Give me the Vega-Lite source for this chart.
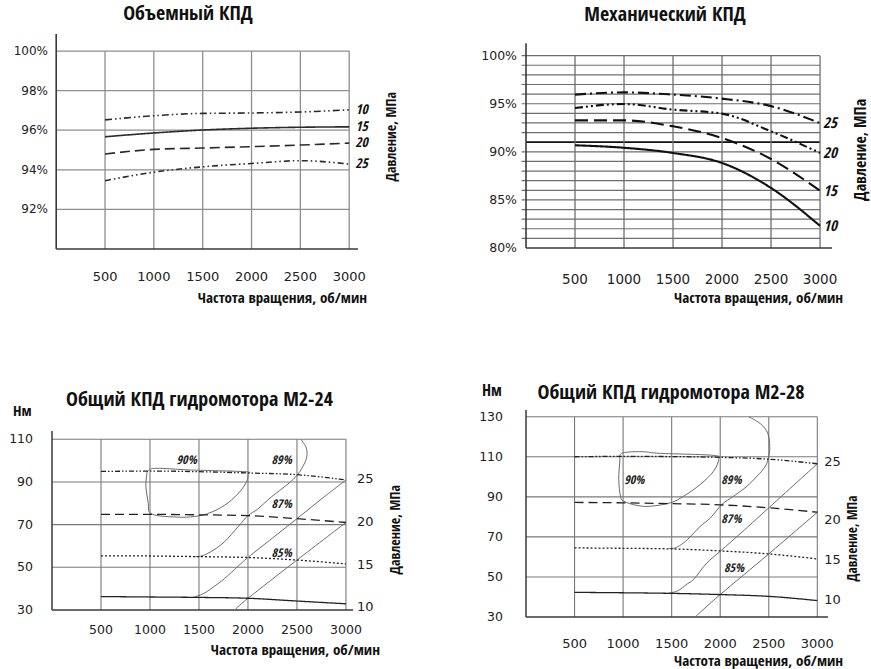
{
  "$schema": "https://vega.github.io/schema/vega-lite/v6.json",
  "background": "white",
  "padding": {"left": 9, "top": 4, "right": 0, "bottom": 0},
  "datasets": {
    "vol": [
      {"p": "10", "rpm": 500, "eff": 96.52}, {"p": "10", "rpm": 1000, "eff": 96.73}, {"p": "10", "rpm": 1500, "eff": 96.85}, {"p": "10", "rpm": 2000, "eff": 96.87}, {"p": "10", "rpm": 2500, "eff": 96.92}, {"p": "10", "rpm": 3000, "eff": 97.03},
      {"p": "15", "rpm": 500, "eff": 95.67}, {"p": "15", "rpm": 1000, "eff": 95.86}, {"p": "15", "rpm": 1500, "eff": 96.01}, {"p": "15", "rpm": 2000, "eff": 96.1}, {"p": "15", "rpm": 2500, "eff": 96.15}, {"p": "15", "rpm": 3000, "eff": 96.17},
      {"p": "20", "rpm": 500, "eff": 94.8}, {"p": "20", "rpm": 1000, "eff": 95.03}, {"p": "20", "rpm": 1500, "eff": 95.1}, {"p": "20", "rpm": 2000, "eff": 95.17}, {"p": "20", "rpm": 2500, "eff": 95.25}, {"p": "20", "rpm": 3000, "eff": 95.35},
      {"p": "25", "rpm": 500, "eff": 93.45}, {"p": "25", "rpm": 1000, "eff": 93.88}, {"p": "25", "rpm": 1500, "eff": 94.15}, {"p": "25", "rpm": 2000, "eff": 94.32}, {"p": "25", "rpm": 2500, "eff": 94.46}, {"p": "25", "rpm": 3000, "eff": 94.29}
    ],
    "mech": [
      {"p": "25", "rpm": 500, "eff": 95.95}, {"p": "25", "rpm": 1000, "eff": 96.18}, {"p": "25", "rpm": 1500, "eff": 95.95}, {"p": "25", "rpm": 2000, "eff": 95.53}, {"p": "25", "rpm": 2500, "eff": 94.75}, {"p": "25", "rpm": 3000, "eff": 92.98},
      {"p": "20", "rpm": 500, "eff": 94.55}, {"p": "20", "rpm": 1000, "eff": 94.97}, {"p": "20", "rpm": 1500, "eff": 94.39}, {"p": "20", "rpm": 2000, "eff": 93.97}, {"p": "20", "rpm": 2500, "eff": 92.13}, {"p": "20", "rpm": 3000, "eff": 89.88},
      {"p": "15", "rpm": 500, "eff": 93.27}, {"p": "15", "rpm": 1000, "eff": 93.27}, {"p": "15", "rpm": 1500, "eff": 92.65}, {"p": "15", "rpm": 2000, "eff": 91.43}, {"p": "15", "rpm": 2500, "eff": 89.25}, {"p": "15", "rpm": 3000, "eff": 85.95},
      {"p": "10", "rpm": 500, "eff": 90.68}, {"p": "10", "rpm": 1000, "eff": 90.42}, {"p": "10", "rpm": 1500, "eff": 89.88}, {"p": "10", "rpm": 2000, "eff": 88.84}, {"p": "10", "rpm": 2500, "eff": 86.24}, {"p": "10", "rpm": 3000, "eff": 82.3}
    ],
    "m24": [
      {"p": "25", "rpm": 500, "torque": 94.9}, {"p": "25", "rpm": 1000, "torque": 95.1}, {"p": "25", "rpm": 1500, "torque": 94.8}, {"p": "25", "rpm": 2000, "torque": 94.2}, {"p": "25", "rpm": 2500, "torque": 93.4}, {"p": "25", "rpm": 3000, "torque": 90.9},
      {"p": "20", "rpm": 500, "torque": 74.8}, {"p": "20", "rpm": 1000, "torque": 74.8}, {"p": "20", "rpm": 1500, "torque": 74.6}, {"p": "20", "rpm": 2000, "torque": 74.2}, {"p": "20", "rpm": 2500, "torque": 72.8}, {"p": "20", "rpm": 3000, "torque": 71.0},
      {"p": "15", "rpm": 500, "torque": 55.4}, {"p": "15", "rpm": 1000, "torque": 55.3}, {"p": "15", "rpm": 1500, "torque": 55.0}, {"p": "15", "rpm": 2000, "torque": 54.6}, {"p": "15", "rpm": 2500, "torque": 53.4}, {"p": "15", "rpm": 3000, "torque": 51.6},
      {"p": "10", "rpm": 500, "torque": 36.3}, {"p": "10", "rpm": 1000, "torque": 36.1}, {"p": "10", "rpm": 1500, "torque": 35.9}, {"p": "10", "rpm": 2000, "torque": 35.5}, {"p": "10", "rpm": 2500, "torque": 34.2}, {"p": "10", "rpm": 3000, "torque": 32.9}
    ],
    "m28": [
      {"p": "25", "rpm": 500, "torque": 110.0}, {"p": "25", "rpm": 1000, "torque": 110.2}, {"p": "25", "rpm": 1500, "torque": 110.1}, {"p": "25", "rpm": 2000, "torque": 109.7}, {"p": "25", "rpm": 2500, "torque": 108.8}, {"p": "25", "rpm": 3000, "torque": 106.5},
      {"p": "20", "rpm": 500, "torque": 87.2}, {"p": "20", "rpm": 1000, "torque": 87.0}, {"p": "20", "rpm": 1500, "torque": 86.6}, {"p": "20", "rpm": 2000, "torque": 86.0}, {"p": "20", "rpm": 2500, "torque": 84.5}, {"p": "20", "rpm": 3000, "torque": 82.3},
      {"p": "15", "rpm": 500, "torque": 64.5}, {"p": "15", "rpm": 1000, "torque": 64.3}, {"p": "15", "rpm": 1500, "torque": 64.0}, {"p": "15", "rpm": 2000, "torque": 63.0}, {"p": "15", "rpm": 2500, "torque": 61.5}, {"p": "15", "rpm": 3000, "torque": 59.0},
      {"p": "10", "rpm": 500, "torque": 42.3}, {"p": "10", "rpm": 1000, "torque": 42.1}, {"p": "10", "rpm": 1500, "torque": 41.8}, {"p": "10", "rpm": 2000, "torque": 41.2}, {"p": "10", "rpm": 2500, "torque": 40.3}, {"p": "10", "rpm": 3000, "torque": 38.2}
    ],
    "m24_iso": [
      {"eff": "90%", "i": 0, "rpm": 983, "torque": 95.3}, {"eff": "90%", "i": 1, "rpm": 1069, "torque": 96.4}, {"eff": "90%", "i": 2, "rpm": 1414, "torque": 95.6}, {"eff": "90%", "i": 3, "rpm": 1966, "torque": 94.8},
      {"eff": "90%", "i": 4, "rpm": 2000, "torque": 93.7}, {"eff": "90%", "i": 5, "rpm": 1983, "torque": 89.8}, {"eff": "90%", "i": 6, "rpm": 1897, "torque": 84.4}, {"eff": "90%", "i": 7, "rpm": 1759, "torque": 79.0},
      {"eff": "90%", "i": 8, "rpm": 1586, "torque": 75.1}, {"eff": "90%", "i": 9, "rpm": 1414, "torque": 73.6}, {"eff": "90%", "i": 10, "rpm": 1241, "torque": 73.6}, {"eff": "90%", "i": 11, "rpm": 1069, "torque": 74.3},
      {"eff": "90%", "i": 12, "rpm": 993, "torque": 75.9}, {"eff": "90%", "i": 13, "rpm": 983, "torque": 79.8}, {"eff": "90%", "i": 14, "rpm": 959, "torque": 87.5}, {"eff": "90%", "i": 15, "rpm": 966, "torque": 92.9},
      {"eff": "89%", "i": 0, "rpm": 2540, "torque": 110}, {"eff": "89%", "i": 1, "rpm": 2590, "torque": 106.5}, {"eff": "89%", "i": 2, "rpm": 2603, "torque": 103}, {"eff": "89%", "i": 3, "rpm": 2580, "torque": 99},
      {"eff": "89%", "i": 4, "rpm": 2508, "torque": 93.5}, {"eff": "89%", "i": 5, "rpm": 2407, "torque": 89}, {"eff": "89%", "i": 6, "rpm": 2237, "torque": 82.9}, {"eff": "89%", "i": 7, "rpm": 2100, "torque": 77.3},
      {"eff": "89%", "i": 8, "rpm": 2000, "torque": 74.2}, {"eff": "89%", "i": 9, "rpm": 1897, "torque": 68.9}, {"eff": "89%", "i": 10, "rpm": 1759, "torque": 61.9}, {"eff": "89%", "i": 11, "rpm": 1621, "torque": 57.3},
      {"eff": "89%", "i": 12, "rpm": 1517, "torque": 55.2}, {"eff": "89%", "i": 13, "rpm": 1440, "torque": 55.1},
      {"eff": "87%", "i": 0, "rpm": 1440, "torque": 35.9}, {"eff": "87%", "i": 1, "rpm": 1550, "torque": 37.8}, {"eff": "87%", "i": 2, "rpm": 1660, "torque": 41.2}, {"eff": "87%", "i": 3, "rpm": 1760, "torque": 44.7},
      {"eff": "87%", "i": 4, "rpm": 1897, "torque": 50.4}, {"eff": "87%", "i": 5, "rpm": 2000, "torque": 54.6}, {"eff": "87%", "i": 6, "rpm": 2250, "torque": 63.7}, {"eff": "87%", "i": 7, "rpm": 2500, "torque": 72.8},
      {"eff": "87%", "i": 8, "rpm": 2750, "torque": 82}, {"eff": "87%", "i": 9, "rpm": 3000, "torque": 90.9},
      {"eff": "85%", "i": 0, "rpm": 1864, "torque": 30}, {"eff": "85%", "i": 1, "rpm": 2000, "torque": 35.5}, {"eff": "85%", "i": 2, "rpm": 2500, "torque": 53.4}, {"eff": "85%", "i": 3, "rpm": 3000, "torque": 71.0}
    ],
    "m28_iso": [
      {"eff": "90%", "i": 0, "rpm": 973, "torque": 111.2}, {"eff": "90%", "i": 1, "rpm": 1041, "torque": 112.3}, {"eff": "90%", "i": 2, "rpm": 1212, "torque": 112.5}, {"eff": "90%", "i": 3, "rpm": 1384, "torque": 111.7},
      {"eff": "90%", "i": 4, "rpm": 1932, "torque": 110.7}, {"eff": "90%", "i": 5, "rpm": 1983, "torque": 108.7}, {"eff": "90%", "i": 6, "rpm": 1932, "torque": 102.8}, {"eff": "90%", "i": 7, "rpm": 1795, "torque": 96.2},
      {"eff": "90%", "i": 8, "rpm": 1623, "torque": 90.3}, {"eff": "90%", "i": 9, "rpm": 1486, "torque": 87}, {"eff": "90%", "i": 10, "rpm": 1281, "torque": 85.3}, {"eff": "90%", "i": 11, "rpm": 1144, "torque": 85.7},
      {"eff": "90%", "i": 12, "rpm": 1007, "torque": 87.8}, {"eff": "90%", "i": 13, "rpm": 973, "torque": 90.3}, {"eff": "90%", "i": 14, "rpm": 955, "torque": 98.7}, {"eff": "90%", "i": 15, "rpm": 966, "torque": 107.8},
      {"eff": "89%", "i": 0, "rpm": 2293, "torque": 130}, {"eff": "89%", "i": 1, "rpm": 2414, "torque": 126.5}, {"eff": "89%", "i": 2, "rpm": 2490, "torque": 121.7}, {"eff": "89%", "i": 3, "rpm": 2510, "torque": 115},
      {"eff": "89%", "i": 4, "rpm": 2500, "torque": 110.3}, {"eff": "89%", "i": 5, "rpm": 2466, "torque": 105.3}, {"eff": "89%", "i": 6, "rpm": 2379, "torque": 100.3}, {"eff": "89%", "i": 7, "rpm": 2276, "torque": 95.3},
      {"eff": "89%", "i": 8, "rpm": 2138, "torque": 90.3}, {"eff": "89%", "i": 9, "rpm": 2017, "torque": 86.2}, {"eff": "89%", "i": 10, "rpm": 1900, "torque": 79.5}, {"eff": "89%", "i": 11, "rpm": 1795, "torque": 75.3},
      {"eff": "89%", "i": 12, "rpm": 1700, "torque": 70.5}, {"eff": "89%", "i": 13, "rpm": 1623, "torque": 67}, {"eff": "89%", "i": 14, "rpm": 1540, "torque": 64.6}, {"eff": "89%", "i": 15, "rpm": 1470, "torque": 64.2},
      {"eff": "87%", "i": 0, "rpm": 1470, "torque": 42}, {"eff": "87%", "i": 1, "rpm": 1560, "torque": 43}, {"eff": "87%", "i": 2, "rpm": 1660, "torque": 46.5}, {"eff": "87%", "i": 3, "rpm": 1730, "torque": 49},
      {"eff": "87%", "i": 4, "rpm": 1863, "torque": 57}, {"eff": "87%", "i": 5, "rpm": 2000, "torque": 62.8}, {"eff": "87%", "i": 6, "rpm": 2250, "torque": 73.5}, {"eff": "87%", "i": 7, "rpm": 2500, "torque": 84.5},
      {"eff": "87%", "i": 8, "rpm": 3000, "torque": 106.5},
      {"eff": "85%", "i": 0, "rpm": 1742, "torque": 30}, {"eff": "85%", "i": 1, "rpm": 2000, "torque": 41.2}, {"eff": "85%", "i": 2, "rpm": 2500, "torque": 61.5}, {"eff": "85%", "i": 3, "rpm": 3000, "torque": 82.3}
    ],
    "m24_iso_lab": [
      {"eff": "90%", "rpm": 1374, "torque": 100.2}, {"eff": "89%", "rpm": 2344, "torque": 100.3},
      {"eff": "87%", "rpm": 2344, "torque": 79.6}, {"eff": "85%", "rpm": 2344, "torque": 56.7}
    ],
    "m28_iso_lab": [
      {"eff": "90%", "rpm": 1116, "torque": 98.2}, {"eff": "89%", "rpm": 2115, "torque": 98.4},
      {"eff": "87%", "rpm": 2115, "torque": 78.8}, {"eff": "85%", "rpm": 2142, "torque": 54.6}
    ],
    "m24_plab": [
      {"p": "25", "torque": 91.4}, {"p": "20", "torque": 71.0}, {"p": "15", "torque": 51.2}, {"p": "10", "torque": 31.2}
    ],
    "m28_plab": [
      {"p": "25", "torque": 107.4}, {"p": "20", "torque": 78.3}, {"p": "15", "torque": 58.3}, {"p": "10", "torque": 38.5}
    ],
    "rpm_grid": [{"rpm": 500}, {"rpm": 1000}, {"rpm": 1500}, {"rpm": 2000}, {"rpm": 2500}, {"rpm": 3000}],
    "vol_ticks": [{"eff": 92, "label": "92%"}, {"eff": 94, "label": "94%"}, {"eff": 96, "label": "96%"}, {"eff": 98, "label": "98%"}, {"eff": 100, "label": "100%"}],
    "mech_ticks": [{"eff": 80, "label": "80%"}, {"eff": 85, "label": "85%"}, {"eff": 90, "label": "90%"}, {"eff": 95, "label": "95%"}, {"eff": 100, "label": "100%"}],
    "m24_ticks": [{"torque": 30}, {"torque": 50}, {"torque": 70}, {"torque": 90}, {"torque": 110}],
    "m28_ticks": [{"torque": 30}, {"torque": 50}, {"torque": 70}, {"torque": 90}, {"torque": 110}, {"torque": 130}]
  },
  "columns": 2,
  "bounds": "flush",
  "spacing": {"row": 161, "column": 168},
  "resolve": {"scale": {"strokeDash": "independent"}},
  "concat": [
    {
      "width": 306,
      "height": 215,
      "title": {"text": "Объемный КПД", "dx": -17, "offset": 9},
      "layer": [
        {
          "data": {"values": [{"eff": 92}, {"eff": 94}, {"eff": 96}, {"eff": 98}, {"eff": 100}]},
          "mark": {"type": "rule", "color": "#8e8e8e", "strokeWidth": 1.3},
          "encoding": {
            "y": {"field": "eff", "type": "quantitative", "scale": {"domain": [90, 100.86], "nice": false, "zero": false}, "axis": null},
            "x": {"datum": 0, "scale": {"domain": [-43, 3090], "nice": false, "zero": false}, "axis": null},
            "x2": {"datum": 3000}
          }
        },
        {
          "data": {"name": "rpm_grid"},
          "mark": {"type": "rule", "color": "#8e8e8e", "strokeWidth": 1.3},
          "encoding": {
            "x": {"field": "rpm", "type": "quantitative", "scale": {"domain": [-43, 3090], "nice": false, "zero": false}, "axis": null},
            "y": {"datum": 90, "scale": {"domain": [90, 100.86], "nice": false, "zero": false}, "axis": null},
            "y2": {"datum": 100}
          }
        },
        {
          "data": {"values": [{}]},
          "mark": {"type": "rule", "color": "#3a3a3a", "strokeWidth": 1.6},
          "encoding": {
            "x": {"datum": 0, "scale": {"domain": [-43, 3090], "nice": false, "zero": false}, "axis": null},
            "y": {"datum": 90, "scale": {"domain": [90, 100.86], "nice": false, "zero": false}, "axis": null},
            "y2": {"datum": 100.86}
          }
        },
        {
          "data": {"values": [{}]},
          "mark": {"type": "rule", "color": "#3a3a3a", "strokeWidth": 1.6},
          "encoding": {
            "x": {"datum": 0, "scale": {"domain": [-43, 3090], "nice": false, "zero": false}, "axis": null},
            "x2": {"datum": 3090},
            "y": {"datum": 90, "scale": {"domain": [90, 100.86], "nice": false, "zero": false}, "axis": null}
          }
        },
        {
          "data": {"name": "vol"},
          "mark": {"type": "line", "color": "#2a2a2a", "strokeWidth": 1.6, "interpolate": "monotone"},
          "encoding": {
            "x": {"field": "rpm", "type": "quantitative", "scale": {"domain": [-43, 3090], "nice": false, "zero": false}, "axis": null},
            "y": {"field": "eff", "type": "quantitative", "scale": {"domain": [90, 100.86], "nice": false, "zero": false}, "axis": null},
            "strokeDash": {"field": "p", "type": "nominal", "legend": null,
                           "scale": {"domain": ["10", "15", "20", "25"], "range": [[7, 3, 1.5, 3, 1.5, 3], [1, 0], [10, 5], [6, 3, 1.5, 3, 1.5, 3]]}}
          }
        },
        {
          "data": {"name": "vol"},
          "transform": [{"filter": "datum.rpm == 3000"}],
          "mark": {"type": "text", "align": "left", "baseline": "middle", "dx": 6, "fontSize": 13.5, "fontWeight": "bold", "fontStyle": "italic", "font": "Noto Sans Condensed, Open Sans Condensed, Roboto Condensed, Lato, sans-serif", "color": "#111"},
          "encoding": {
            "x": {"field": "rpm", "type": "quantitative", "scale": {"domain": [-43, 3090], "nice": false, "zero": false}, "axis": null},
            "y": {"field": "eff", "type": "quantitative", "scale": {"domain": [90, 100.86], "nice": false, "zero": false}, "axis": null},
            "text": {"field": "p"}
          }
        },
        {
          "data": {"name": "rpm_grid"},
          "mark": {"type": "text", "align": "center", "baseline": "middle", "dy": 28, "fontSize": 13, "font": "DejaVu Sans", "color": "#222"},
          "encoding": {
            "x": {"field": "rpm", "type": "quantitative", "scale": {"domain": [-43, 3090], "nice": false, "zero": false}, "axis": null},
            "y": {"datum": 90, "scale": {"domain": [90, 100.86], "nice": false, "zero": false}, "axis": null},
            "text": {"field": "rpm", "type": "quantitative", "format": "d"}
          }
        },
        {
          "data": {"name": "vol_ticks"},
          "mark": {"type": "text", "align": "right", "baseline": "middle", "dx": -4, "fontSize": 12, "font": "DejaVu Sans", "color": "#222"},
          "encoding": {
            "x": {"datum": -43, "scale": {"domain": [-43, 3090], "nice": false, "zero": false}, "axis": null},
            "y": {"field": "eff", "type": "quantitative", "scale": {"domain": [90, 100.86], "nice": false, "zero": false}, "axis": null},
            "text": {"field": "label"}
          }
        },
        {
          "data": {"values": [{}]},
          "mark": {"type": "text", "align": "right", "baseline": "alphabetic", "dy": 54, "fontSize": 15, "fontWeight": "bold", "font": "Noto Sans Condensed, Open Sans Condensed, Roboto Condensed, Lato, sans-serif", "color": "#111", "text": "Частота вращения, об/мин"},
          "encoding": {
            "x": {"datum": 3182, "scale": {"domain": [-43, 3090], "nice": false, "zero": false}, "axis": null},
            "y": {"datum": 90, "scale": {"domain": [90, 100.86], "nice": false, "zero": false}, "axis": null}
          }
        },
        {
          "data": {"values": [{}]},
          "mark": {"type": "text", "angle": 270, "align": "center", "baseline": "middle", "fontSize": 14, "fontWeight": "bold", "font": "Noto Sans Condensed, Open Sans Condensed, Roboto Condensed, Lato, sans-serif", "color": "#111", "text": "Давление, МПа"},
          "encoding": {
            "x": {"datum": 3440, "scale": {"domain": [-43, 3090], "nice": false, "zero": false}, "axis": null},
            "y": {"datum": 95.67, "scale": {"domain": [90, 100.86], "nice": false, "zero": false}, "axis": null}
          }
        }
      ]
    },
    {
      "width": 306,
      "height": 214,
      "title": {"text": "Механический КПД", "dx": -14, "offset": 9},
      "layer": [
        {
          "data": {"values": [{"eff": 81}, {"eff": 82}, {"eff": 83}, {"eff": 84}, {"eff": 85}, {"eff": 86}, {"eff": 87}, {"eff": 88}, {"eff": 89}, {"eff": 90}, {"eff": 92}, {"eff": 93}, {"eff": 94}, {"eff": 95}, {"eff": 96}, {"eff": 97}, {"eff": 98}, {"eff": 99}, {"eff": 100}]},
          "mark": {"type": "rule", "color": "#6e6e6e", "strokeWidth": 1.2},
          "encoding": {
            "y": {"field": "eff", "type": "quantitative", "scale": {"domain": [80, 102.25], "nice": false, "zero": false}, "axis": null},
            "x": {"datum": -45, "scale": {"domain": [0, 3122], "nice": false, "zero": false}, "axis": null},
            "x2": {"datum": 3000}
          }
        },
        {
          "data": {"values": [{}]},
          "mark": {"type": "rule", "color": "#111", "strokeWidth": 1.8},
          "encoding": {
            "x": {"datum": 0, "scale": {"domain": [0, 3122], "nice": false, "zero": false}, "axis": null},
            "x2": {"datum": 3000},
            "y": {"datum": 91, "scale": {"domain": [80, 102.25], "nice": false, "zero": false}, "axis": null}
          }
        },
        {
          "data": {"name": "rpm_grid"},
          "mark": {"type": "rule", "color": "#6e6e6e", "strokeWidth": 1.3},
          "encoding": {
            "x": {"field": "rpm", "type": "quantitative", "scale": {"domain": [0, 3122], "nice": false, "zero": false}, "axis": null},
            "y": {"datum": 80, "scale": {"domain": [80, 102.25], "nice": false, "zero": false}, "axis": null},
            "y2": {"datum": 100}
          }
        },
        {
          "data": {"values": [{}]},
          "mark": {"type": "rule", "color": "#3a3a3a", "strokeWidth": 1.6},
          "encoding": {
            "x": {"datum": 0, "scale": {"domain": [0, 3122], "nice": false, "zero": false}, "axis": null},
            "y": {"datum": 80, "scale": {"domain": [80, 102.25], "nice": false, "zero": false}, "axis": null},
            "y2": {"datum": 101.3}
          }
        },
        {
          "data": {"values": [{}]},
          "mark": {"type": "rule", "color": "#3a3a3a", "strokeWidth": 1.6},
          "encoding": {
            "x": {"datum": 0, "scale": {"domain": [0, 3122], "nice": false, "zero": false}, "axis": null},
            "x2": {"datum": 3122},
            "y": {"datum": 80, "scale": {"domain": [80, 102.25], "nice": false, "zero": false}, "axis": null}
          }
        },
        {
          "data": {"name": "mech"},
          "mark": {"type": "line", "color": "#111", "strokeWidth": 2.1, "interpolate": "monotone"},
          "encoding": {
            "x": {"field": "rpm", "type": "quantitative", "scale": {"domain": [0, 3122], "nice": false, "zero": false}, "axis": null},
            "y": {"field": "eff", "type": "quantitative", "scale": {"domain": [80, 102.25], "nice": false, "zero": false}, "axis": null},
            "strokeDash": {"field": "p", "type": "nominal", "legend": null,
                           "scale": {"domain": ["25", "20", "15", "10"], "range": [[11, 4, 2, 4], [8, 3, 2, 3, 2, 3], [13, 6], [1, 0]]}}
          }
        },
        {
          "data": {"name": "mech"},
          "transform": [{"filter": "datum.rpm == 3000"}],
          "mark": {"type": "text", "align": "left", "baseline": "middle", "dx": 3, "fontSize": 15, "fontWeight": "bold", "fontStyle": "italic", "font": "Noto Sans Condensed, Open Sans Condensed, Roboto Condensed, Lato, sans-serif", "color": "#111"},
          "encoding": {
            "x": {"field": "rpm", "type": "quantitative", "scale": {"domain": [0, 3122], "nice": false, "zero": false}, "axis": null},
            "y": {"field": "eff", "type": "quantitative", "scale": {"domain": [80, 102.25], "nice": false, "zero": false}, "axis": null},
            "text": {"field": "p"}
          }
        },
        {
          "data": {"name": "rpm_grid"},
          "mark": {"type": "text", "align": "center", "baseline": "middle", "dy": 32, "fontSize": 13.5, "font": "DejaVu Sans", "color": "#222"},
          "encoding": {
            "x": {"field": "rpm", "type": "quantitative", "scale": {"domain": [0, 3122], "nice": false, "zero": false}, "axis": null},
            "y": {"datum": 80, "scale": {"domain": [80, 102.25], "nice": false, "zero": false}, "axis": null},
            "text": {"field": "rpm", "type": "quantitative", "format": "d"}
          }
        },
        {
          "data": {"name": "mech_ticks"},
          "mark": {"type": "text", "align": "right", "baseline": "middle", "dx": -9, "fontSize": 12.5, "font": "DejaVu Sans", "color": "#222"},
          "encoding": {
            "x": {"datum": 0, "scale": {"domain": [0, 3122], "nice": false, "zero": false}, "axis": null},
            "y": {"field": "eff", "type": "quantitative", "scale": {"domain": [80, 102.25], "nice": false, "zero": false}, "axis": null},
            "text": {"field": "label"}
          }
        },
        {
          "data": {"values": [{}]},
          "mark": {"type": "text", "align": "right", "baseline": "alphabetic", "dy": 55, "fontSize": 15, "fontWeight": "bold", "font": "Noto Sans Condensed, Open Sans Condensed, Roboto Condensed, Lato, sans-serif", "color": "#111", "text": "Частота вращения, об/мин"},
          "encoding": {
            "x": {"datum": 3235, "scale": {"domain": [0, 3122], "nice": false, "zero": false}, "axis": null},
            "y": {"datum": 80, "scale": {"domain": [80, 102.25], "nice": false, "zero": false}, "axis": null}
          }
        },
        {
          "data": {"values": [{}]},
          "mark": {"type": "text", "angle": 270, "align": "center", "baseline": "middle", "fontSize": 16, "fontWeight": "bold", "font": "Noto Sans Condensed, Open Sans Condensed, Roboto Condensed, Lato, sans-serif", "color": "#111", "text": "Давление, МПа"},
          "encoding": {
            "x": {"datum": 3418, "scale": {"domain": [0, 3122], "nice": false, "zero": false}, "axis": null},
            "y": {"datum": 90.2, "scale": {"domain": [80, 102.25], "nice": false, "zero": false}, "axis": null}
          }
        }
      ]
    },
    {
      "width": 301,
      "height": 200,
      "title": {"text": "Общий КПД гидромотора М2-24", "dx": -3, "offset": -6},
      "layer": [
        {
          "data": {"values": [{"torque": 50}, {"torque": 70}, {"torque": 90}, {"torque": 110}]},
          "mark": {"type": "rule", "color": "#7a7a7a", "strokeWidth": 1.1},
          "encoding": {
            "y": {"field": "torque", "type": "quantitative", "scale": {"domain": [30, 123.7], "nice": false, "zero": false}, "axis": null},
            "x": {"datum": 0, "scale": {"domain": [0, 3072], "nice": false, "zero": false}, "axis": null},
            "x2": {"datum": 3000}
          }
        },
        {
          "data": {"name": "rpm_grid"},
          "mark": {"type": "rule", "color": "#7a7a7a", "strokeWidth": 1.1},
          "encoding": {
            "x": {"field": "rpm", "type": "quantitative", "scale": {"domain": [0, 3072], "nice": false, "zero": false}, "axis": null},
            "y": {"datum": 30, "scale": {"domain": [30, 123.7], "nice": false, "zero": false}, "axis": null},
            "y2": {"datum": 110}
          }
        },
        {
          "data": {"values": [{}]},
          "mark": {"type": "rule", "color": "#3a3a3a", "strokeWidth": 1.5},
          "encoding": {
            "x": {"datum": 0, "scale": {"domain": [0, 3072], "nice": false, "zero": false}, "axis": null},
            "y": {"datum": 30, "scale": {"domain": [30, 123.7], "nice": false, "zero": false}, "axis": null},
            "y2": {"datum": 113.9}
          }
        },
        {
          "data": {"values": [{}]},
          "mark": {"type": "rule", "color": "#3a3a3a", "strokeWidth": 1.5},
          "encoding": {
            "x": {"datum": 0, "scale": {"domain": [0, 3072], "nice": false, "zero": false}, "axis": null},
            "x2": {"datum": 3072},
            "y": {"datum": 30, "scale": {"domain": [30, 123.7], "nice": false, "zero": false}, "axis": null}
          }
        },
        {
          "data": {"name": "m24_iso"},
          "transform": [{"filter": "datum.eff == '90%'"}],
          "mark": {"type": "line", "color": "#6a6a6a", "strokeWidth": 1, "interpolate": "cardinal-closed"},
          "encoding": {
            "x": {"field": "rpm", "type": "quantitative", "scale": {"domain": [0, 3072], "nice": false, "zero": false}, "axis": null},
            "y": {"field": "torque", "type": "quantitative", "scale": {"domain": [30, 123.7], "nice": false, "zero": false}, "axis": null},
            "order": {"field": "i", "type": "quantitative"}
          }
        },
        {
          "data": {"name": "m24_iso"},
          "transform": [{"filter": "datum.eff != '90%'"}],
          "mark": {"type": "line", "color": "#6a6a6a", "strokeWidth": 1, "interpolate": "cardinal"},
          "encoding": {
            "x": {"field": "rpm", "type": "quantitative", "scale": {"domain": [0, 3072], "nice": false, "zero": false}, "axis": null},
            "y": {"field": "torque", "type": "quantitative", "scale": {"domain": [30, 123.7], "nice": false, "zero": false}, "axis": null},
            "detail": {"field": "eff", "type": "nominal"},
            "order": {"field": "i", "type": "quantitative"}
          }
        },
        {
          "data": {"name": "m24"},
          "mark": {"type": "line", "color": "#222", "strokeWidth": 1.3, "interpolate": "monotone"},
          "encoding": {
            "x": {"field": "rpm", "type": "quantitative", "scale": {"domain": [0, 3072], "nice": false, "zero": false}, "axis": null},
            "y": {"field": "torque", "type": "quantitative", "scale": {"domain": [30, 123.7], "nice": false, "zero": false}, "axis": null},
            "strokeDash": {"field": "p", "type": "nominal", "legend": null,
                           "scale": {"domain": ["25", "20", "15", "10"], "range": [[5, 2, 1.5, 2, 1.5, 2], [9, 5], [2, 2], [1, 0]]}}
          }
        },
        {
          "data": {"name": "m24_iso_lab"},
          "mark": {"type": "text", "align": "center", "baseline": "middle", "fontSize": 12, "fontStyle": "italic", "font": "Noto Sans Condensed, Open Sans Condensed, Roboto Condensed, Lato, sans-serif", "color": "#222"},
          "encoding": {
            "x": {"field": "rpm", "type": "quantitative", "scale": {"domain": [0, 3072], "nice": false, "zero": false}, "axis": null},
            "y": {"field": "torque", "type": "quantitative", "scale": {"domain": [30, 123.7], "nice": false, "zero": false}, "axis": null},
            "text": {"field": "eff"}
          }
        },
        {
          "data": {"name": "m24_plab"},
          "mark": {"type": "text", "align": "left", "baseline": "middle", "dx": 11, "fontSize": 13, "font": "DejaVu Sans", "color": "#222"},
          "encoding": {
            "x": {"datum": 3000, "scale": {"domain": [0, 3072], "nice": false, "zero": false}, "axis": null},
            "y": {"field": "torque", "type": "quantitative", "scale": {"domain": [30, 123.7], "nice": false, "zero": false}, "axis": null},
            "text": {"field": "p"}
          }
        },
        {
          "data": {"name": "rpm_grid"},
          "mark": {"type": "text", "align": "center", "baseline": "middle", "dy": 20, "fontSize": 12.5, "font": "DejaVu Sans", "color": "#222"},
          "encoding": {
            "x": {"field": "rpm", "type": "quantitative", "scale": {"domain": [0, 3072], "nice": false, "zero": false}, "axis": null},
            "y": {"datum": 30, "scale": {"domain": [30, 123.7], "nice": false, "zero": false}, "axis": null},
            "text": {"field": "rpm", "type": "quantitative", "format": "d"}
          }
        },
        {
          "data": {"name": "m24_ticks"},
          "mark": {"type": "text", "align": "right", "baseline": "middle", "dx": -19, "fontSize": 12.5, "font": "DejaVu Sans", "color": "#222"},
          "encoding": {
            "x": {"datum": 0, "scale": {"domain": [0, 3072], "nice": false, "zero": false}, "axis": null},
            "y": {"field": "torque", "type": "quantitative", "scale": {"domain": [30, 123.7], "nice": false, "zero": false}, "axis": null},
            "text": {"field": "torque", "type": "quantitative", "format": "d"}
          }
        },
        {
          "data": {"values": [{}]},
          "mark": {"type": "text", "align": "left", "baseline": "alphabetic", "dx": -39, "dy": 6, "fontSize": 15, "fontWeight": "bold", "font": "Noto Sans Condensed, Open Sans Condensed, Roboto Condensed, Lato, sans-serif", "color": "#111", "text": "Нм"},
          "encoding": {
            "x": {"datum": 0, "scale": {"domain": [0, 3072], "nice": false, "zero": false}, "axis": null},
            "y": {"datum": 123.7, "scale": {"domain": [30, 123.7], "nice": false, "zero": false}, "axis": null}
          }
        },
        {
          "data": {"values": [{}]},
          "mark": {"type": "text", "align": "right", "baseline": "alphabetic", "dy": 45, "fontSize": 15, "fontWeight": "bold", "font": "Noto Sans Condensed, Open Sans Condensed, Roboto Condensed, Lato, sans-serif", "color": "#111", "text": "Частота вращения, об/мин"},
          "encoding": {
            "x": {"datum": 3347, "scale": {"domain": [0, 3072], "nice": false, "zero": false}, "axis": null},
            "y": {"datum": 30, "scale": {"domain": [30, 123.7], "nice": false, "zero": false}, "axis": null}
          }
        },
        {
          "data": {"values": [{}]},
          "mark": {"type": "text", "angle": 270, "align": "center", "baseline": "middle", "fontSize": 14, "fontWeight": "bold", "font": "Noto Sans Condensed, Open Sans Condensed, Roboto Condensed, Lato, sans-serif", "color": "#111", "text": "Давление, МПа"},
          "encoding": {
            "x": {"datum": 3506, "scale": {"domain": [0, 3072], "nice": false, "zero": false}, "axis": null},
            "y": {"datum": 67.6, "scale": {"domain": [30, 123.7], "nice": false, "zero": false}, "axis": null}
          }
        }
      ]
    },
    {
      "width": 302,
      "height": 207,
      "title": {"text": "Общий КПД гидромотора М2-28", "dx": -6, "offset": -20},
      "layer": [
        {
          "data": {"values": [{"torque": 50}, {"torque": 70}, {"torque": 90}, {"torque": 110}, {"torque": 130}]},
          "mark": {"type": "rule", "color": "#7a7a7a", "strokeWidth": 1.1},
          "encoding": {
            "y": {"field": "torque", "type": "quantitative", "scale": {"domain": [30, 133.35], "nice": false, "zero": false}, "axis": null},
            "x": {"datum": 0, "scale": {"domain": [0, 3110], "nice": false, "zero": false}, "axis": null},
            "x2": {"datum": 3000}
          }
        },
        {
          "data": {"name": "rpm_grid"},
          "mark": {"type": "rule", "color": "#7a7a7a", "strokeWidth": 1.1},
          "encoding": {
            "x": {"field": "rpm", "type": "quantitative", "scale": {"domain": [0, 3110], "nice": false, "zero": false}, "axis": null},
            "y": {"datum": 30, "scale": {"domain": [30, 133.35], "nice": false, "zero": false}, "axis": null},
            "y2": {"datum": 130}
          }
        },
        {
          "data": {"values": [{}]},
          "mark": {"type": "rule", "color": "#3a3a3a", "strokeWidth": 1.5},
          "encoding": {
            "x": {"datum": 0, "scale": {"domain": [0, 3110], "nice": false, "zero": false}, "axis": null},
            "y": {"datum": 30, "scale": {"domain": [30, 133.35], "nice": false, "zero": false}, "axis": null},
            "y2": {"datum": 133.35}
          }
        },
        {
          "data": {"values": [{}]},
          "mark": {"type": "rule", "color": "#3a3a3a", "strokeWidth": 1.5},
          "encoding": {
            "x": {"datum": 0, "scale": {"domain": [0, 3110], "nice": false, "zero": false}, "axis": null},
            "x2": {"datum": 3110},
            "y": {"datum": 30, "scale": {"domain": [30, 133.35], "nice": false, "zero": false}, "axis": null}
          }
        },
        {
          "data": {"name": "m28_iso"},
          "transform": [{"filter": "datum.eff == '90%'"}],
          "mark": {"type": "line", "color": "#6a6a6a", "strokeWidth": 1, "interpolate": "cardinal-closed"},
          "encoding": {
            "x": {"field": "rpm", "type": "quantitative", "scale": {"domain": [0, 3110], "nice": false, "zero": false}, "axis": null},
            "y": {"field": "torque", "type": "quantitative", "scale": {"domain": [30, 133.35], "nice": false, "zero": false}, "axis": null},
            "order": {"field": "i", "type": "quantitative"}
          }
        },
        {
          "data": {"name": "m28_iso"},
          "transform": [{"filter": "datum.eff != '90%'"}],
          "mark": {"type": "line", "color": "#6a6a6a", "strokeWidth": 1, "interpolate": "cardinal"},
          "encoding": {
            "x": {"field": "rpm", "type": "quantitative", "scale": {"domain": [0, 3110], "nice": false, "zero": false}, "axis": null},
            "y": {"field": "torque", "type": "quantitative", "scale": {"domain": [30, 133.35], "nice": false, "zero": false}, "axis": null},
            "detail": {"field": "eff", "type": "nominal"},
            "order": {"field": "i", "type": "quantitative"}
          }
        },
        {
          "data": {"name": "m28"},
          "mark": {"type": "line", "color": "#222", "strokeWidth": 1.3, "interpolate": "monotone"},
          "encoding": {
            "x": {"field": "rpm", "type": "quantitative", "scale": {"domain": [0, 3110], "nice": false, "zero": false}, "axis": null},
            "y": {"field": "torque", "type": "quantitative", "scale": {"domain": [30, 133.35], "nice": false, "zero": false}, "axis": null},
            "strokeDash": {"field": "p", "type": "nominal", "legend": null,
                           "scale": {"domain": ["25", "20", "15", "10"], "range": [[5, 2, 1.5, 2, 1.5, 2], [9, 5], [2, 2], [1, 0]]}}
          }
        },
        {
          "data": {"name": "m28_iso_lab"},
          "mark": {"type": "text", "align": "center", "baseline": "middle", "fontSize": 12, "fontStyle": "italic", "font": "Noto Sans Condensed, Open Sans Condensed, Roboto Condensed, Lato, sans-serif", "color": "#222"},
          "encoding": {
            "x": {"field": "rpm", "type": "quantitative", "scale": {"domain": [0, 3110], "nice": false, "zero": false}, "axis": null},
            "y": {"field": "torque", "type": "quantitative", "scale": {"domain": [30, 133.35], "nice": false, "zero": false}, "axis": null},
            "text": {"field": "eff"}
          }
        },
        {
          "data": {"name": "m28_plab"},
          "mark": {"type": "text", "align": "left", "baseline": "middle", "dx": 7, "fontSize": 13, "font": "DejaVu Sans", "color": "#222"},
          "encoding": {
            "x": {"datum": 3000, "scale": {"domain": [0, 3110], "nice": false, "zero": false}, "axis": null},
            "y": {"field": "torque", "type": "quantitative", "scale": {"domain": [30, 133.35], "nice": false, "zero": false}, "axis": null},
            "text": {"field": "p"}
          }
        },
        {
          "data": {"name": "rpm_grid"},
          "mark": {"type": "text", "align": "center", "baseline": "middle", "dy": 27, "fontSize": 13, "font": "DejaVu Sans", "color": "#222"},
          "encoding": {
            "x": {"field": "rpm", "type": "quantitative", "scale": {"domain": [0, 3110], "nice": false, "zero": false}, "axis": null},
            "y": {"datum": 30, "scale": {"domain": [30, 133.35], "nice": false, "zero": false}, "axis": null},
            "text": {"field": "rpm", "type": "quantitative", "format": "d"}
          }
        },
        {
          "data": {"name": "m28_ticks"},
          "mark": {"type": "text", "align": "right", "baseline": "middle", "dx": -23, "fontSize": 12.5, "font": "DejaVu Sans", "color": "#222"},
          "encoding": {
            "x": {"datum": 0, "scale": {"domain": [0, 3110], "nice": false, "zero": false}, "axis": null},
            "y": {"field": "torque", "type": "quantitative", "scale": {"domain": [30, 133.35], "nice": false, "zero": false}, "axis": null},
            "text": {"field": "torque", "type": "quantitative", "format": "d"}
          }
        },
        {
          "data": {"values": [{}]},
          "mark": {"type": "text", "align": "left", "baseline": "alphabetic", "dx": -44, "dy": -14, "fontSize": 16, "fontWeight": "bold", "font": "Noto Sans Condensed, Open Sans Condensed, Roboto Condensed, Lato, sans-serif", "color": "#111", "text": "Нм"},
          "encoding": {
            "x": {"datum": 0, "scale": {"domain": [0, 3110], "nice": false, "zero": false}, "axis": null},
            "y": {"datum": 133.35, "scale": {"domain": [30, 133.35], "nice": false, "zero": false}, "axis": null}
          }
        },
        {
          "data": {"values": [{}]},
          "mark": {"type": "text", "align": "right", "baseline": "alphabetic", "dy": 49, "fontSize": 15, "fontWeight": "bold", "font": "Noto Sans Condensed, Open Sans Condensed, Roboto Condensed, Lato, sans-serif", "color": "#111", "text": "Частота вращения, об/мин"},
          "encoding": {
            "x": {"datum": 3265, "scale": {"domain": [0, 3110], "nice": false, "zero": false}, "axis": null},
            "y": {"datum": 30, "scale": {"domain": [30, 133.35], "nice": false, "zero": false}, "axis": null}
          }
        },
        {
          "data": {"values": [{}]},
          "mark": {"type": "text", "angle": 270, "align": "center", "baseline": "middle", "fontSize": 13.5, "fontWeight": "bold", "font": "Noto Sans Condensed, Open Sans Condensed, Roboto Condensed, Lato, sans-serif", "color": "#111", "text": "Давление, МПа"},
          "encoding": {
            "x": {"datum": 3369, "scale": {"domain": [0, 3110], "nice": false, "zero": false}, "axis": null},
            "y": {"datum": 69.2, "scale": {"domain": [30, 133.35], "nice": false, "zero": false}, "axis": null}
          }
        }
      ]
    }
  ],
  "config": {
    "view": {"stroke": null},
    "title": {"font": "Noto Sans Condensed, Open Sans Condensed, Roboto Condensed, Lato, sans-serif", "fontSize": 20, "fontWeight": "bold", "color": "#111", "baseline": "alphabetic", "anchor": "middle"}
  }
}
